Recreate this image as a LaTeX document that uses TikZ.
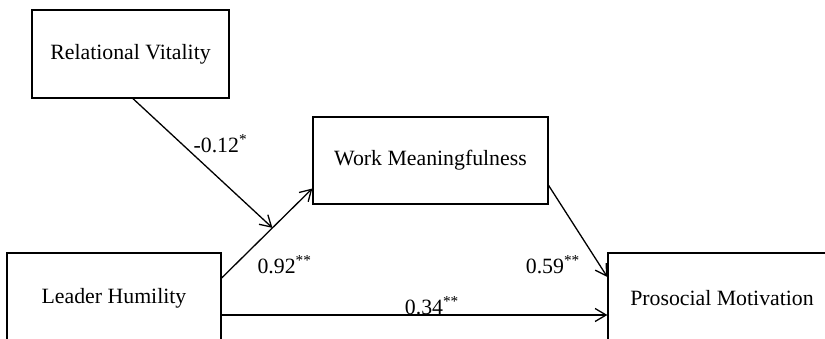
\documentclass[tikz,border=0pt]{standalone}
\usepackage{fontspec}
\setmainfont{Liberation Serif}
\usetikzlibrary{arrows.meta}

\begin{document}
\begin{tikzpicture}[x=1pt,y=1pt,
 construct/.style={draw=black,rectangle,line width=1.3pt,inner sep=0pt,align=center,fill=white},
 flow/.style={-{Straight Barb[length=11pt,width=13pt,line width=1.3pt]},black,line width=1.3pt},
 every node/.style={font=\fontsize{21.8}{26}\selectfont},
 coef/.style={inner sep=0pt}]
\path[use as bounding box] (0,0) rectangle (825,339);
\clip (0,0) rectangle (825,339);
\node[construct,minimum width=197pt,minimum height=88pt] (vitality) at (130.5,285) {Relational Vitality};
\node[construct,minimum width=235pt,minimum height=87pt] (meaning) at (430.5,178.5) {Work Meaningfulness};
\node[construct,minimum width=214pt,minimum height=90pt] (humility) at (114,41) {Leader Humility};
\node[construct,minimum width=228pt,minimum height=90pt] (prosocial) at (722,41) {Prosocial Motivation};
\draw[flow] ([yshift=20pt]humility.east) -- coordinate[pos=0.56] (moderate)
  node[coef,pos=0.3,anchor=north west,xshift=8pt,yshift=-4pt]{0.92\textsuperscript{**}} ([yshift=-28pt]meaning.west);
\draw[flow] ([xshift=2.5pt]vitality.south) -- node[coef,pos=0.43,anchor=south west,yshift=1pt]{-0.12\textsuperscript{*}} (moderate);
\draw[flow] ([yshift=-25pt]meaning.east) -- node[coef,pos=0.78,anchor=north east,xshift=-14pt,yshift=2pt]{0.59\textsuperscript{**}} ([yshift=21pt]prosocial.west);
\draw[flow] ([yshift=-17pt]humility.east) -- node[coef,pos=0.545,above]{0.34\textsuperscript{**}} ([yshift=-17pt]prosocial.west);
\end{tikzpicture}
\end{document}
